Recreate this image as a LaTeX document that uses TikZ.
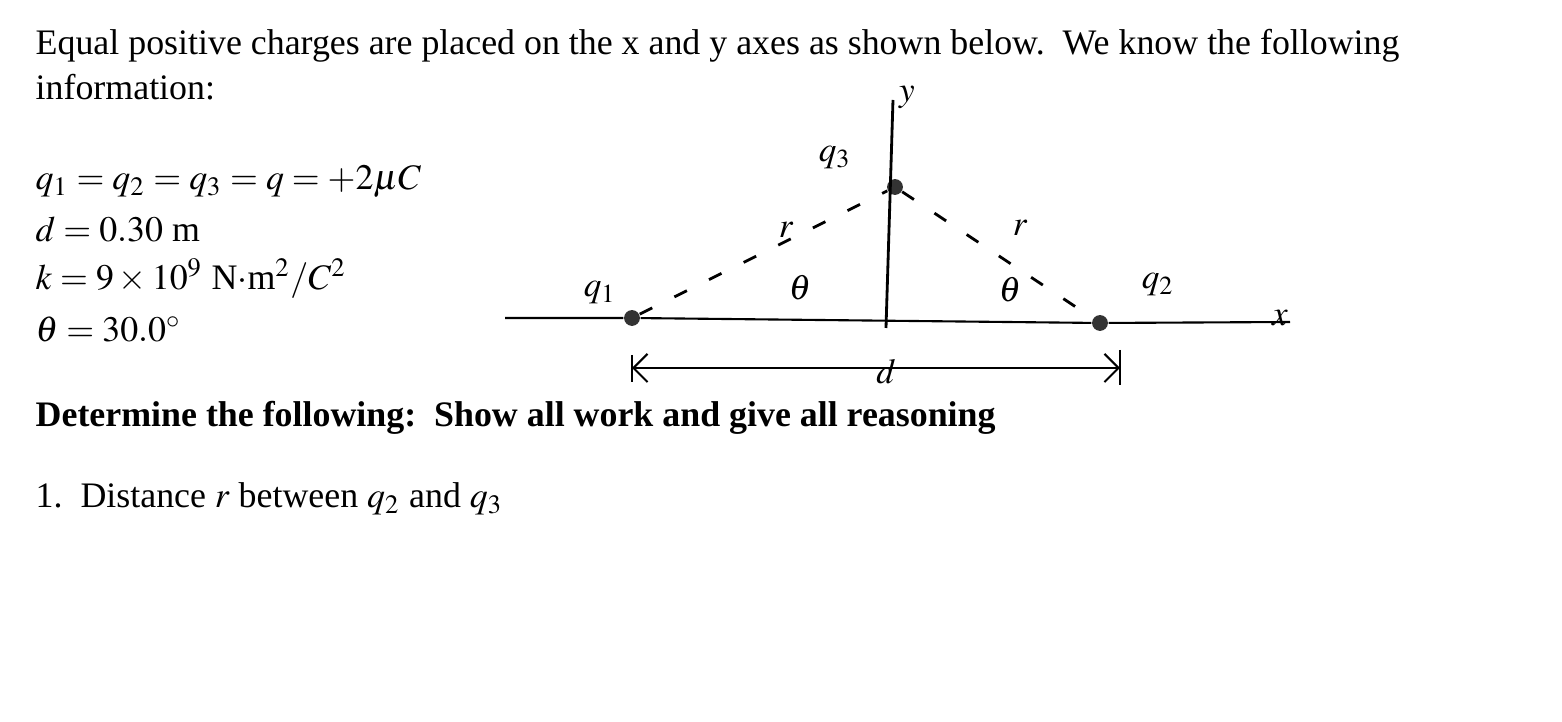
\documentclass[tikz,border=0pt]{standalone}
\usepackage{mathptmx}
\usepackage{fontspec}
\setmainfont{Liberation Serif}
\usetikzlibrary{arrows.meta}
\begin{document}
\begin{tikzpicture}[x=0.01cm,y=-0.01cm,
  txt/.style={anchor=base west,inner sep=0pt,font=\fontsize{10.2pt}{12pt}\selectfont},
  hand/.style={font=\fontsize{10pt}{12pt}\selectfont\itshape,inner sep=0pt},
  charge/.style={circle,fill=black!80,inner sep=0pt,minimum size=4.5pt}]
\useasboundingbox (0,0) rectangle (1562,722);
\node[txt] (t1) at (35,55) {Equal positive charges are placed on the x and y axes as shown below.\ \ We know the following};
\node[txt] (t2) at (35,100) {information:};
\node[txt] (e1) at (35,190) {$q_1=q_2=q_3=q=+2\mu C$};
\node[txt] (e2) at (35,242) {$d=0.30$ m};
\node[txt] (e3) at (35,290) {$k=9\times10^9$ N$\cdot$m$^2/C^2$};
\node[txt] (e4) at (35,342) {$\theta=30.0^\circ$};
\node[txt,font=\fontsize{10.2pt}{12pt}\selectfont\bfseries] (t3) at (35,427) {Determine the following:\ \ Show all work and give all reasoning};
\node[txt] (t4) at (35,508) {1.\ \ Distance $r$ between $q_2$ and $q_3$};
% diagram
\node[charge] (q1) at (632,318) {};
\node[charge] (q2) at (1100,323) {};
\node[charge] (q3) at (895,187) {};
\coordinate (ytop) at (893,100);
\coordinate (ybot) at (886,328);
\coordinate (xl) at (505,318);
\coordinate (xr) at (1290,322);
\draw[line width=0.8pt] (ytop) -- (ybot);
\draw[line width=0.6pt] (xl) -- (q1) -- (q2) -- (xr);
\draw[line width=0.8pt,dash pattern=on 4pt off 7pt] (q1) -- (q3) -- (q2);
\coordinate (dl) at (632,368);
\coordinate (dr) at (1120,368);
\draw[line width=0.6pt,{Straight Barb[length=4pt]}-{Straight Barb[length=4pt]}] (dl) -- (dr);
\draw[line width=0.6pt] (632,355) -- (632,382) (1120,350) -- (1120,385);
\node[hand] (lq1) at (600,293) {$q_1$};
\node[hand] (lq3) at (835,158) {$q_3$};
\node[hand] (lq2) at (1158,285) {$q_2$};
\node[hand] (ly) at (907,97) {$y$};
\node[hand] (lx) at (1280,318) {$x$};
\node[hand] (lr1) at (786,230) {$r$};
\node[hand] (lr2) at (1020,228) {$r$};
\node[hand] (th1) at (800,288) {$\theta$};
\node[hand] (th2) at (1010,290) {$\theta$};
\node[hand] (ld) at (886,372) {$d$};
\end{tikzpicture}
\end{document}
